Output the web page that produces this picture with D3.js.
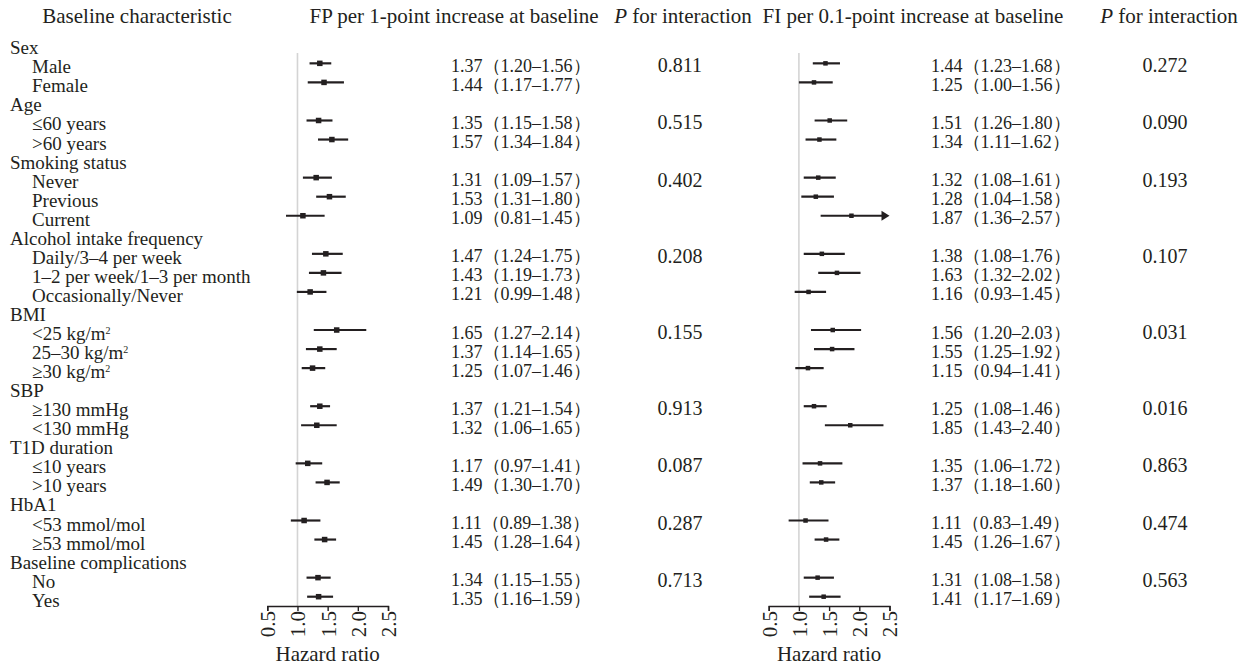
<!DOCTYPE html>
<html>
<head>
<meta charset="utf-8">
<script src="https://cdn.jsdelivr.net/npm/d3@7/dist/d3.min.js"></script>
<style>
  body { margin: 0; background: #fff; }
  text { font-family: "Liberation Serif", "Times New Roman", serif; fill: #231f20; }
</style>
</head>
<body>
<div id="body"></div>
<script>
// rows of the table (level 0 = group heading, 1 = subgroup)
let labels = ["Sex", "Male", "Female", "Age", "≤60 years", ">60 years",
  "Smoking status", "Never", "Previous", "Current",
  "Alcohol intake frequency", "Daily/3–4 per week", "1–2 per week/1–3 per month", "Occasionally/Never",
  "BMI", "<25 kg/m²", "25–30 kg/m²", "≥30 kg/m²",
  "SBP", "≥130 mmHg", "<130 mmHg",
  "T1D duration", "≤10 years", ">10 years",
  "HbA1", "<53 mmol/mol", "≥53 mmol/mol",
  "Baseline complications", "No", "Yes"]
let levels = [0, 1, 1, 0, 1, 1, 0, 1, 1, 1, 0, 1, 1, 1, 0, 1, 1, 1, 0, 1, 1, 0, 1, 1, 0, 1, 1, 0, 1, 1]

// FP per 1-point increase
let fpEst = [null, 1.37, 1.44, null, 1.35, 1.57, null, 1.31, 1.53, 1.09, null, 1.47, 1.43, 1.21,
  null, 1.65, 1.37, 1.25, null, 1.37, 1.32, null, 1.17, 1.49, null, 1.11, 1.45, null, 1.34, 1.35]
let fpLow = [null, 1.20, 1.17, null, 1.15, 1.34, null, 1.09, 1.31, 0.81, null, 1.24, 1.19, 0.99,
  null, 1.27, 1.14, 1.07, null, 1.21, 1.06, null, 0.97, 1.30, null, 0.89, 1.28, null, 1.15, 1.16]
let fpHigh = [null, 1.56, 1.77, null, 1.58, 1.84, null, 1.57, 1.80, 1.45, null, 1.75, 1.73, 1.48,
  null, 2.14, 1.65, 1.46, null, 1.54, 1.65, null, 1.41, 1.70, null, 1.38, 1.64, null, 1.55, 1.59]
let fpP = ["", "0.811", "", "", "0.515", "", "", "0.402", "", "", "", "0.208", "", "",
  "", "0.155", "", "", "", "0.913", "", "", "0.087", "", "", "0.287", "", "", "0.713", ""]

// FI per 0.1-point increase
let fiEst = [null, 1.44, 1.25, null, 1.51, 1.34, null, 1.32, 1.28, 1.87, null, 1.38, 1.63, 1.16,
  null, 1.56, 1.55, 1.15, null, 1.25, 1.85, null, 1.35, 1.37, null, 1.11, 1.45, null, 1.31, 1.41]
let fiLow = [null, 1.23, 1.00, null, 1.26, 1.11, null, 1.08, 1.04, 1.36, null, 1.08, 1.32, 0.93,
  null, 1.20, 1.25, 0.94, null, 1.08, 1.43, null, 1.06, 1.18, null, 0.83, 1.26, null, 1.08, 1.17]
let fiHigh = [null, 1.68, 1.56, null, 1.80, 1.62, null, 1.61, 1.58, 2.57, null, 1.76, 2.02, 1.45,
  null, 2.03, 1.92, 1.41, null, 1.46, 2.40, null, 1.72, 1.60, null, 1.49, 1.67, null, 1.58, 1.69]
let fiP = ["", "0.272", "", "", "0.090", "", "", "0.193", "", "", "", "0.107", "", "",
  "", "0.031", "", "", "", "0.016", "", "", "0.863", "", "", "0.474", "", "", "0.563", ""]

let tickValues = [0.5, 1.0, 1.5, 2.0, 2.5]

let width = 1256, height = 667
let svg = d3.select("#body").append("svg")
  .attr("width", width)
  .attr("height", height)

let rows = d3.range(labels.length)
let y = d3.scalePoint().domain(rows).range([44.3, 596.7])
let axisY = 606

// header
let head = svg.append("g").attr("font-size", 21)
head.append("text").attr("x", 137).attr("y", 23).attr("text-anchor", "middle").text("Baseline characteristic")
head.append("text").attr("x", 454).attr("y", 23).attr("text-anchor", "middle").text("FP per 1-point increase at baseline")
head.append("text").attr("x", 913).attr("y", 23).attr("text-anchor", "middle").text("FI per 0.1-point increase at baseline")
;[683, 1169].forEach(function (cx) {
  let t = head.append("text").attr("x", cx).attr("y", 23).attr("text-anchor", "middle")
  t.append("tspan").attr("font-style", "italic").text("P")
  t.append("tspan").text(" for interaction")
})

// row labels
let lab = svg.append("g").attr("font-size", 19)
  .selectAll("text")
  .data(rows)
  .enter()
  .append("text")
  .attr("x", function (i) { return levels[i] ? 32 : 10 })
  .attr("y", function (i) { return y(i) + 10 })
lab.each(function (i) {
  let parts = labels[i].split("²")
  let t = d3.select(this)
  t.append("tspan").text(parts[0])
  if (parts.length > 1) {
    t.append("tspan").attr("font-size", 10).attr("dy", -6).text("2")
  }
})

function fmt(e, l, h) {
  return e.toFixed(2) + "（" + l.toFixed(2) + "–" + h.toFixed(2) + "）"
}

function panel(est, low, high, pv, x0, x1, textX, pX, box) {
  let x = d3.scaleLinear().domain([0.5, 2.5]).range([x0, x1])
  let g = svg.append("g")

  // reference line at 1
  g.append("line")
    .attr("x1", x(1)).attr("x2", x(1))
    .attr("y1", 53).attr("y2", axisY)
    .attr("stroke", "#d4d4d4")
    .attr("stroke-width", 1.6)

  let data = rows.filter(function (i) { return est[i] != null })

  g.selectAll(".ci")
    .data(data)
    .enter()
    .append("line")
    .attr("x1", function (i) { return x(Math.max(0.5, low[i])) })
    .attr("x2", function (i) { return x(Math.min(2.5, high[i])) - (high[i] > 2.5 ? 5 : 0) })
    .attr("y1", function (i) { return y(i) })
    .attr("y2", function (i) { return y(i) })
    .attr("stroke", "#231f20")
    .attr("stroke-width", 2.2)

  // arrow for CI beyond axis
  g.selectAll(".arrow")
    .data(data.filter(function (i) { return high[i] > 2.5 }))
    .enter()
    .append("path")
    .attr("d", function (i) {
      let xe = x(2.5), yy = y(i)
      return "M" + xe + "," + yy + "L" + (xe - 8) + "," + (yy - 5) + "L" + (xe - 8) + "," + (yy + 5) + "Z"
    })
    .attr("fill", "#231f20")

  g.selectAll(".pt")
    .data(data)
    .enter()
    .append("rect")
    .attr("x", function (i) { return x(est[i]) - box / 2 })
    .attr("y", function (i) { return y(i) - box / 2 })
    .attr("width", box)
    .attr("height", box)
    .attr("fill", "#231f20")

  // estimate text
  g.append("g").attr("font-size", 18)
    .selectAll("text")
    .data(data)
    .enter()
    .append("text")
    .attr("x", textX)
    .attr("y", function (i) { return y(i) + 8.5 })
    .text(function (i) { return fmt(est[i], low[i], high[i]) })

  // p for interaction
  g.append("g").attr("font-size", 20)
    .selectAll("text")
    .data(rows.filter(function (i) { return pv[i] !== "" }))
    .enter()
    .append("text")
    .attr("x", pX)
    .attr("y", function (i) { return y(i) + 9 })
    .attr("text-anchor", "middle")
    .text(function (i) { return pv[i] })

  // axis
  let ax = g.append("g")
    .attr("transform", "translate(0," + axisY + ")")
    .call(d3.axisBottom(x).tickValues(tickValues).tickSize(5).tickFormat(d3.format(".1f")))
  ax.select(".domain").attr("stroke", "#231f20").attr("stroke-width", 1.4)
  ax.selectAll(".tick line").attr("stroke", "#231f20").attr("stroke-width", 1.4)
  ax.selectAll(".tick text")
    .attr("font-family", "Liberation Serif, serif")
    .attr("font-size", 21)
    .attr("fill", "#231f20")
    .attr("transform", "rotate(-90)")
    .attr("text-anchor", "end")
    .attr("x", -5)
    .attr("y", 0)
    .attr("dy", "0.35em")

  g.append("text")
    .attr("x", x(1.5))
    .attr("y", 661)
    .attr("text-anchor", "middle")
    .attr("font-size", 21)
    .text("Hazard ratio")
}

panel(fpEst, fpLow, fpHigh, fpP, 267.3, 388, 451, 680, 5.5)
panel(fiEst, fiLow, fiHigh, fiP, 768.7, 889.5, 931, 1165, 4.5)
</script>
</body>
</html>
